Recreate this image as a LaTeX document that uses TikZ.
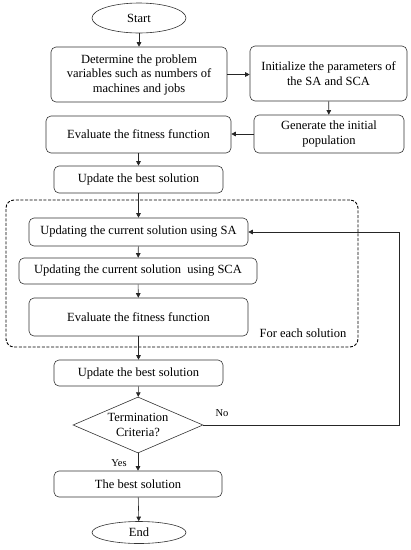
\documentclass[tikz,border=0pt]{standalone}
\usepackage{fontspec}
\setmainfont{Liberation Serif}
\usetikzlibrary{shapes.geometric,arrows.meta}
\begin{document}
\begin{tikzpicture}[x=1pt,y=-1pt,
  font=\fontsize{12.5}{14.5}\selectfont,
  box/.style={draw=black!80,rounded corners=5pt,inner sep=0pt,align=center,line width=0.6pt},
  term/.style={draw=black!80,ellipse,inner sep=0pt,line width=0.6pt},
  dec/.style={draw=black!80,diamond,inner sep=0pt,aspect=2.3,align=center,line width=0.6pt},
  arr/.style={draw=black!85,line width=0.6pt,-{Triangle[length=4.5pt,width=4.5pt]}},
  lbl/.style={inner sep=0pt,font=\fontsize{10.5}{12}\selectfont}]
\useasboundingbox (0,0) rectangle (411,550);
\node[draw=black,dash pattern=on 3pt off 1.6pt,rounded corners=8pt,minimum width=352pt,minimum height=147pt,line width=0.9pt] (loop) at (182,273.5) {};
\node[term,minimum width=94pt,minimum height=30pt] (start) at (139,18) {Start};
\node[box,minimum width=176pt,minimum height=55pt] (b1) at (139,74.5) {Determine the problem\\variables such as numbers of\\machines and jobs};
\node[box,minimum width=157pt,minimum height=55pt] (b2) at (328.5,73.5) {Initialize the parameters of\\the SA and SCA};
\node[box,minimum width=185pt,minimum height=37pt] (b3) at (138.5,134.5) {Evaluate the fitness function};
\node[box,minimum width=150pt,minimum height=38pt] (b4) at (329,134) {Generate the initial\\population};
\node[box,minimum width=169pt,minimum height=27pt] (b5) at (138.5,179.5) {Update the best solution};
\node[box,minimum width=219pt,minimum height=28pt] (b6) at (138.5,232) {Updating the current solution using SA};
\node[box,minimum width=238pt,minimum height=26pt] (b7) at (138,271) {Updating the current solution\ \ using SCA};
\node[box,minimum width=219pt,minimum height=38pt] (b8) at (138.5,317) {Evaluate the fitness function};
\node[inner sep=0pt] (fe) at (303,333) {For each solution};
\node[box,minimum width=169pt,minimum height=26pt] (b9) at (138.5,373) {Update the best solution};
\node[dec,minimum width=130pt,minimum height=56pt] (dia) at (138,425) {Termination\\Criteria?};
\node[box,minimum width=168pt,minimum height=26pt] (b10) at (138,484) {The best solution};
\node[term,minimum width=94pt,minimum height=22pt] (end) at (139,532.5) {End};
\node[lbl] (no) at (222,413) {No};
\node[lbl] (yes) at (119,463) {Yes};
\draw[arr] (start) -- (b1);
\draw[arr] (b1.east) -- (b1.east -| b2.west);
\draw[arr] (b2) -- (b4);
\draw[arr] (b4.west) -- (b4.west -| b3.east);
\draw[arr] (b3) -- (b5);
\draw[arr] (b5) -- (b6);
\draw[arr] (b6) -- (b7);
\draw[arr] (b7) -- (b8);
\draw[arr] (b8) -- (b9);
\draw[arr] (b9) -- (dia);
\draw[arr] (dia) -- (b10);
\draw[arr] (b10) -- (end);
\draw[arr] (dia.east) -- ++(196,0) |- (b6.east);
\end{tikzpicture}
\end{document}
